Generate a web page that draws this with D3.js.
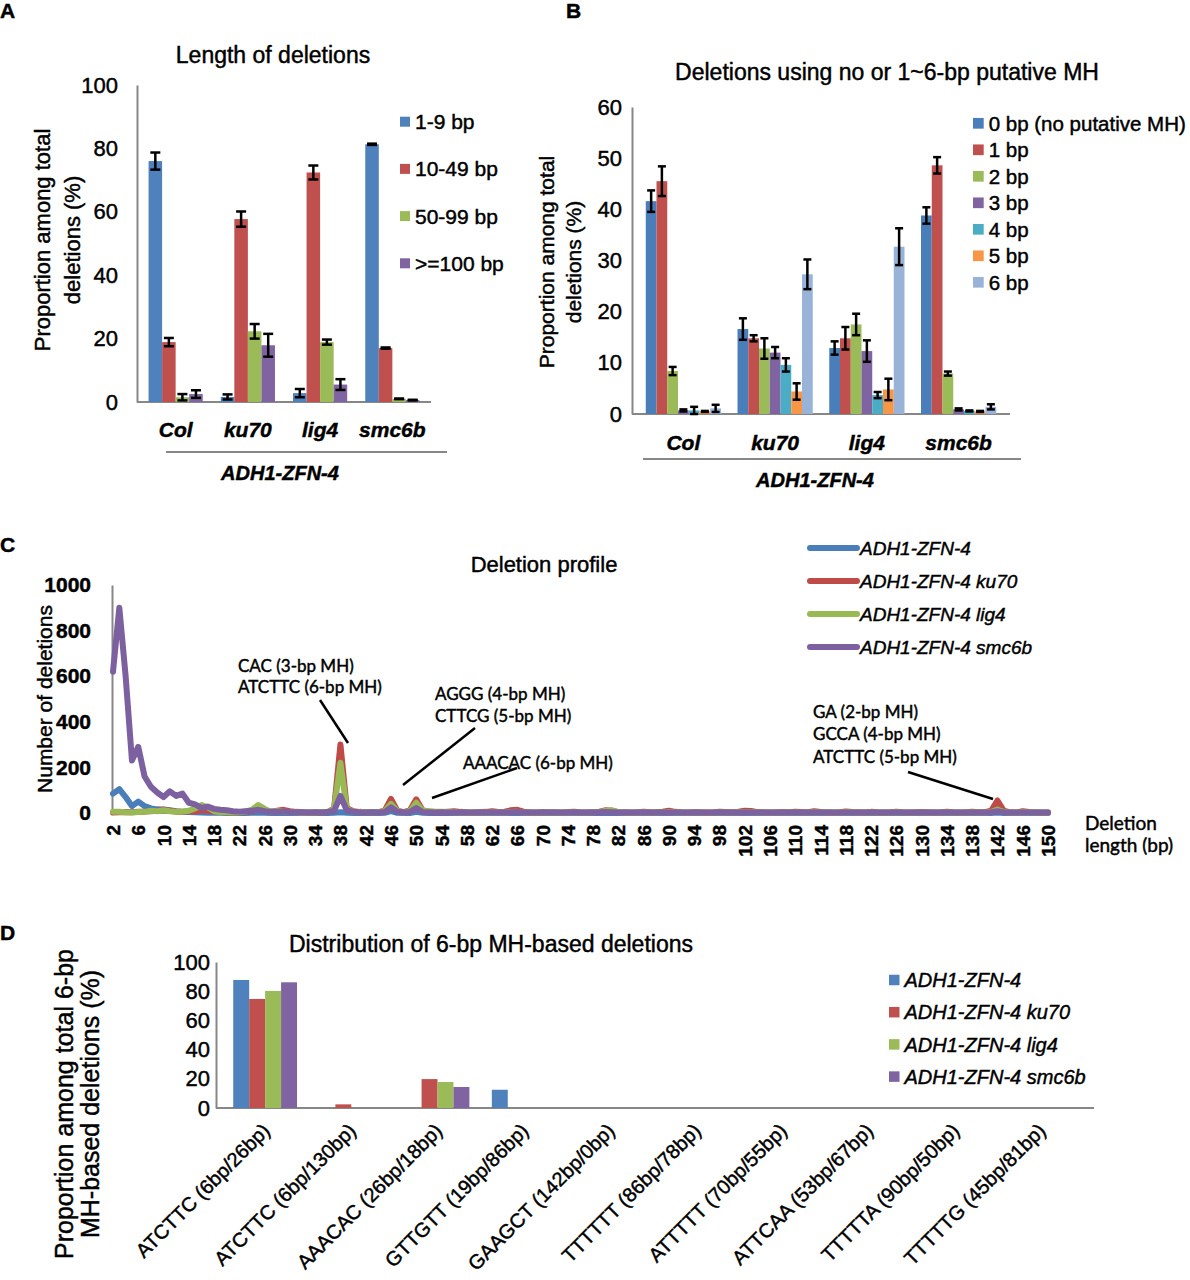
<!DOCTYPE html>
<html>
<head>
<meta charset="utf-8">
<title>Deletion analysis</title>
<script src="https://cdn.jsdelivr.net/npm/d3@7"></script>
<style>
  body { margin: 0; background: #fff; }
  svg { display: block; }
  text { font-family: "Liberation Sans", Arial, sans-serif; fill: #000; stroke: #000; stroke-width: 0.45px; }
  text.cal { font-family: Lato, "Open Sans", sans-serif; }
</style>
</head>
<body>
<svg id="fig" width="1190" height="1280"></svg>
<script>
// ---- A: length of deletions ----
const genotypes = ['Col', 'ku70', 'lig4', 'smc6b'];
const lengthClasses = ['1-9 bp', '10-49 bp', '50-99 bp', '>=100 bp'];
const lengthMean = [
    [76.0, 18.9, 1.5, 2.5],
    [1.6, 57.7, 22.3, 17.9],
    [2.8, 72.4, 18.9, 5.5],
    [81.3, 17.0, 1.0, 0.6]
];
const lengthErr = [
    [2.7, 1.3, 1.0, 1.2],
    [0.8, 2.4, 2.3, 3.6],
    [1.3, 2.2, 0.8, 1.7],
    [0.2, 0.2, 0.1, 0.1]
];

// ---- B: microhomology use ----
const mhClasses = ['0 bp (no putative MH)', '1 bp', '2 bp', '3 bp', '4 bp', '5 bp', '6 bp'];
const mhMean = [
    [41.6, 45.5, 8.4, 0.7, 0.7, 0.5, 1.1],
    [16.6, 14.8, 12.8, 12.0, 9.6, 4.4, 27.3],
    [12.9, 14.8, 17.5, 12.3, 3.7, 4.8, 32.7],
    [38.8, 48.6, 7.9, 0.9, 0.6, 0.5, 1.4]
];
const mhErr = [
    [2.1, 2.9, 0.8, 0.2, 0.7, 0.1, 0.7],
    [2.1, 0.6, 2.0, 1.1, 1.3, 1.6, 2.9],
    [1.3, 2.2, 2.1, 2.1, 0.6, 2.1, 3.6],
    [1.6, 1.6, 0.4, 0.2, 0.1, 0.1, 0.5]
];

// ---- C: deletion profile (deletion length 2..150 bp) ----
const lineNames = ['ADH1-ZFN-4', 'ADH1-ZFN-4 ku70', 'ADH1-ZFN-4 lig4', 'ADH1-ZFN-4 smc6b'];
const lengthTicks = [2, 6, 10, 14, 18, 22, 26, 30, 34, 38, 42, 46, 50, 54, 58, 62, 66, 70, 74, 78,
    82, 86, 90, 94, 98, 102, 106, 110, 114, 118, 122, 126, 130, 134, 138, 142, 146, 150];
const countWT = [
    85, 105, 70, 30, 50, 30, 20, 16, 15, 12,
    8, 5, 4, 3, 2, 1, 1, 1, 0, 0,
    0, 0, 1, 2, 1, 0, 0, 0, 0, 0,
    0, 0, 0, 0, 0, 1, 3, 1, 0, 0,
    0, 0, 0, 1, 8, 1, 0, 0, 5, 1,
    0, 0, 0, 0, 0, 0, 0, 0, 0, 0,
    0, 0, 0, 0, 0, 0, 0, 0, 0, 0,
    0, 0, 0, 0, 0, 0, 0, 0, 1, 0,
    0, 0, 0, 0, 0, 0, 0, 0, 0, 0,
    0, 0, 0, 0, 0, 0, 0, 0, 0, 0,
    1, 0, 0, 0, 0, 0, 0, 0, 0, 0,
    0, 0, 0, 0, 0, 0, 0, 0, 0, 0,
    0, 0, 0, 0, 0, 0, 0, 0, 0, 0,
    0, 0, 0, 0, 0, 0, 0, 0, 0, 0,
    2, 0, 0, 0, 0, 0, 0, 0, 0
];
const countKu70 = [
    2, 3, 4, 3, 5, 6, 8, 10, 15, 10,
    6, 5, 8, 6, 12, 10, 6, 4, 3, 2,
    3, 5, 8, 20, 12, 6, 10, 14, 8, 5,
    3, 2, 2, 3, 4, 20, 300, 22, 8, 5,
    3, 4, 4, 10, 62, 10, 4, 12, 60, 12,
    5, 4, 3, 6, 8, 5, 3, 2, 3, 5,
    8, 4, 6, 12, 14, 6, 3, 2, 3, 4,
    3, 2, 4, 5, 3, 2, 4, 6, 12, 10,
    4, 3, 2, 3, 5, 3, 4, 6, 10, 5,
    3, 2, 4, 3, 2, 3, 5, 4, 3, 6,
    10, 9, 4, 3, 2, 3, 4, 3, 5, 4,
    3, 8, 4, 3, 2, 3, 7, 4, 3, 2,
    5, 3, 2, 3, 6, 3, 2, 3, 4, 3,
    2, 3, 5, 3, 2, 3, 6, 3, 4, 10,
    55, 10, 3, 2, 8, 4, 3, 2, 2
];
const countLig4 = [
    5, 5, 3, 2, 4, 5, 10, 8, 12, 8,
    5, 6, 10, 20, 35, 25, 8, 4, 3, 2,
    3, 6, 15, 35, 18, 6, 8, 6, 4, 3,
    2, 2, 2, 3, 5, 18, 220, 18, 6, 4,
    3, 3, 3, 8, 40, 8, 3, 8, 45, 10,
    8, 6, 5, 4, 3, 2, 2, 3, 2, 2,
    3, 2, 2, 4, 5, 2, 2, 2, 2, 3,
    2, 2, 2, 3, 2, 2, 3, 4, 10, 12,
    4, 2, 2, 2, 3, 2, 2, 3, 4, 2,
    2, 2, 2, 2, 2, 2, 3, 2, 2, 3,
    4, 3, 2, 2, 2, 2, 2, 2, 2, 2,
    2, 3, 2, 2, 2, 2, 3, 2, 2, 2,
    2, 2, 2, 2, 3, 2, 2, 2, 2, 2,
    2, 2, 2, 2, 2, 2, 3, 2, 2, 4,
    15, 4, 2, 2, 3, 2, 2, 2, 2
];
const countSmc6b = [
    620, 900, 600, 230, 290, 160, 115, 90, 70, 95,
    75, 85, 45, 38, 22, 28, 18, 14, 12, 8,
    6, 8, 10, 14, 8, 5, 4, 6, 4, 3,
    3, 2, 3, 2, 4, 10, 75, 12, 5, 3,
    2, 3, 2, 4, 25, 5, 3, 4, 22, 4,
    3, 2, 3, 2, 2, 3, 2, 2, 3, 2,
    3, 2, 2, 3, 4, 2, 2, 2, 3, 2,
    2, 2, 2, 3, 2, 2, 2, 3, 4, 3,
    2, 2, 2, 2, 3, 2, 2, 3, 2, 2,
    2, 2, 2, 2, 2, 2, 3, 2, 2, 2,
    3, 2, 2, 2, 2, 2, 2, 2, 2, 2,
    2, 2, 2, 2, 2, 2, 2, 2, 2, 2,
    2, 2, 2, 2, 2, 2, 2, 2, 2, 2,
    2, 2, 2, 2, 2, 2, 2, 2, 2, 3,
    8, 3, 2, 2, 2, 2, 2, 2, 2
];

// ---- D: 6-bp MH sites ----
const mhSites = ['ATCTTC (6bp/26bp)', 'ATCTTC (6bp/130bp)', 'AAACAC (26bp/18bp)', 'GTTGTT (19bp/86bp)',
    'GAAGCT (142bp/0bp)', 'TTTTTT (86bp/78bp)', 'ATTTTT (70bp/55bp)', 'ATTCAA (53bp/67bp)',
    'TTTTTA (90bp/50bp)', 'TTTTTG (45bp/81bp)'];
const shareWT = [87.7, 0, 0, 12.5, 0, 0, 0, 0, 0, 0];
const shareKu70 = [74.7, 2.5, 19.8, 0, 0, 0, 0, 0, 0, 0];
const shareLig4 = [80.2, 0, 17.8, 0, 0, 0, 0, 0, 0, 0];
const shareSmc6b = [86.1, 0, 14.4, 0, 0, 0, 0, 0, 0, 0];

const colors4 = ['#4F81BD', '#C0504D', '#9BBB59', '#8064A2'];
const colors7 = ['#4A7EBB', '#C0504D', '#9BBB59', '#8064A2', '#4BACC6', '#F79646', '#98B2D8'];
const lineColors = ['#4A7EBB', '#BE4B48', '#98B954', '#7D60A0'];
const grey = '#878787';

const svg = d3.select('#fig');

function label(t, x, y, size, opts) {
    opts = opts || {};
    return svg.append('text')
        .attr('x', x).attr('y', y)
        .attr('font-size', size)
        .attr('font-weight', opts.bold ? 'bold' : null)
        .attr('font-style', opts.italic ? 'italic' : null)
        .attr('text-anchor', opts.anchor || 'start')
        .attr('class', opts.cls || null)
        .text(t);
}

function yTitle(lines, xs, yc, size) {
    lines.forEach((t, i) => {
        svg.append('text')
            .attr('transform', `translate(${xs[i]},${yc}) rotate(-90)`)
            .attr('text-anchor', 'middle')
            .attr('font-size', size)
            .text(t);
    });
}

function squareLegend(names, colors, x, y0, dy, sq, fs, italic) {
    names.forEach((n, i) => {
        const cy = y0 + i * dy;
        svg.append('rect').attr('x', x).attr('y', cy - sq / 2).attr('width', sq).attr('height', sq).attr('fill', colors[i]);
        label(n, x + sq + 5, cy + fs * 0.36, fs, {italic: italic});
    });
}

function groupedBars(o) {
    const g = svg.append('g');
    const x0 = d3.scaleBand().domain(o.groups).range(o.xr).paddingInner(o.pi).paddingOuter(o.po);
    const x1 = d3.scaleBand().domain(d3.range(o.colors.length)).range([0, x0.bandwidth()]);
    const y = d3.scaleLinear().domain(o.yd).range(o.yr);

    const ya = g.append('g')
        .attr('transform', `translate(${o.xr[0]},0)`)
        .call(d3.axisLeft(y).tickValues(o.yTicks).tickSize(0).tickPadding(o.pad));
    ya.attr('font-size', o.tickFont).attr('font-family', null);
    ya.select('.domain').attr('stroke', grey).attr('stroke-width', 2);

    g.append('line')
        .attr('x1', o.xr[0]).attr('x2', o.xr[1] + (o.extend || 0))
        .attr('y1', y(0)).attr('y2', y(0))
        .attr('stroke', grey).attr('stroke-width', 2);

    const grp = g.selectAll('g.grp').data(o.groups).join('g')
        .attr('class', 'grp')
        .attr('transform', d => `translate(${x0(d)},0)`);

    const cells = (d, i) => o.means[i].map((v, j) => ({v: v, j: j, e: o.errs ? o.errs[i][j] : 0}));

    grp.selectAll('rect').data(cells).join('rect')
        .attr('x', d => x1(d.j))
        .attr('width', x1.bandwidth())
        .attr('y', d => y(d.v))
        .attr('height', d => y(0) - y(d.v))
        .attr('fill', d => o.colors[d.j]);

    if (o.errs) {
        grp.selectAll('g.err').data(cells).join('g')
            .attr('class', 'err')
            .each(function (d) {
                const s = d3.select(this);
                const cx = x1(d.j) + x1.bandwidth() / 2;
                const top = y(d.v + d.e), bot = y(Math.max(0, d.v - d.e));
                s.append('line').attr('x1', cx).attr('x2', cx).attr('y1', top).attr('y2', bot);
                s.append('line').attr('x1', cx - o.cap / 2).attr('x2', cx + o.cap / 2).attr('y1', top).attr('y2', top);
                s.append('line').attr('x1', cx - o.cap / 2).attr('x2', cx + o.cap / 2).attr('y1', bot).attr('y2', bot);
                s.selectAll('line').attr('stroke', '#000').attr('stroke-width', 2.5);
            });
    }
    return {x0: x0, y: y};
}

// ================= Panel A =================
label('A', 0, 18, 21, {bold: true});
label('Length of deletions', 273, 63, 23, {anchor: 'middle'});
const pa = groupedBars({
    groups: genotypes, colors: colors4, means: lengthMean, errs: lengthErr,
    xr: [137, 431], pi: 0.25, po: 0.16, yd: [0, 100], yr: [402, 85],
    yTicks: [0, 20, 40, 60, 80, 100], pad: 19, tickFont: 22, cap: 10
});
genotypes.forEach(gn => label(gn, pa.x0(gn) + pa.x0.bandwidth() / 2, 437, 21, {italic: true, bold: true, anchor: 'middle'}));
svg.append('line').attr('x1', 166).attr('x2', 447).attr('y1', 452).attr('y2', 452).attr('stroke', grey).attr('stroke-width', 2);
label('ADH1-ZFN-4', 280, 480, 20, {italic: true, bold: true, anchor: 'middle'});
yTitle(['Proportion among total', 'deletions (%)'], [50, 80], 240, 22);
squareLegend(lengthClasses, colors4, 400, 121.7, 47.2, 10, 21, false);

// ================= Panel B =================
label('B', 566, 18, 21, {bold: true});
label('Deletions using no or 1~6-bp putative MH', 887, 80, 23, {anchor: 'middle'});
const pb = groupedBars({
    groups: genotypes, colors: colors7, means: mhMean, errs: mhErr,
    xr: [632, 1010], pi: 0.18, po: 0.15, yd: [0, 60], yr: [414, 107],
    yTicks: [0, 10, 20, 30, 40, 50, 60], pad: 10, tickFont: 22, cap: 8
});
genotypes.forEach(gn => label(gn, pb.x0(gn) + pb.x0.bandwidth() / 2, 450, 21, {italic: true, bold: true, anchor: 'middle'}));
svg.append('line').attr('x1', 643).attr('x2', 1021).attr('y1', 459).attr('y2', 459).attr('stroke', grey).attr('stroke-width', 2);
label('ADH1-ZFN-4', 815, 487, 20, {italic: true, bold: true, anchor: 'middle'});
yTitle(['Proportion among total', 'deletions (%)'], [554, 581], 262, 21);
squareLegend(mhClasses, colors7, 973, 123.3, 26.5, 10.7, 20.5, false);

// ================= Panel C =================
label('C', 0, 552, 21, {bold: true});
label('Deletion profile', 544, 572, 22, {anchor: 'middle'});
const delLengths = d3.range(2, 151);
const xC = d3.scalePoint().domain(delLengths).range([113, 1048]);
const yC = d3.scaleLinear().domain([0, 1000]).range([813, 585]);

const yaC = svg.append('g').attr('transform', 'translate(112,0)')
    .call(d3.axisLeft(yC).tickValues([0, 200, 400, 600, 800, 1000]).tickFormat(d3.format('d')).tickSize(0).tickPadding(21));
yaC.attr('font-size', 21).attr('font-family', null).attr('font-weight', 'bold');
yaC.select('.domain').attr('stroke', grey).attr('stroke-width', 2);
svg.append('line').attr('x1', 112).attr('x2', 1048).attr('y1', yC(0)).attr('y2', yC(0)).attr('stroke', grey).attr('stroke-width', 2);

lengthTicks.forEach(t => {
    svg.append('text')
        .attr('transform', `translate(${xC(t) + 7},825) rotate(-90)`)
        .attr('text-anchor', 'end')
        .attr('font-size', 19)
        .attr('font-weight', 'bold')
        .text(t);
});

const series = [countWT, countKu70, countLig4, countSmc6b];
const lineGen = d3.line().x((d, i) => xC(delLengths[i])).y(d => yC(d));
series.forEach((s, k) => {
    svg.append('path').attr('d', lineGen(s))
        .attr('fill', 'none').attr('stroke', lineColors[k])
        .attr('stroke-width', 6).attr('stroke-linejoin', 'round').attr('stroke-linecap', 'round');
});

yTitle(['Number of deletions'], [52], 699, 21);

lineNames.forEach((n, i) => {
    const cy = 548 + i * 33;
    svg.append('line').attr('x1', 810).attr('x2', 857).attr('y1', cy).attr('y2', cy)
        .attr('stroke', lineColors[i]).attr('stroke-width', 6).attr('stroke-linecap', 'round');
    label(n, 860, cy + 7, 19, {italic: true});
});

// annotations
const notes = [
    {x: 238, ys: [672, 693], t: ['CAC (3-bp MH)', 'ATCTTC (6-bp MH)'], l: [320, 700, 348, 743]},
    {x: 435, ys: [700, 722], t: ['AGGG (4-bp MH)', 'CTTCG (5-bp MH)'], l: [475, 728, 403, 785]},
    {x: 463, ys: [769], t: ['AAACAC (6-bp MH)'], l: [517, 768, 432, 798]},
    {x: 813, ys: [718, 740, 763], t: ['GA (2-bp MH)', 'GCCA (4-bp MH)', 'ATCTTC (5-bp MH)'], l: [908, 772, 993, 799]}
];
notes.forEach(n => {
    n.t.forEach((t, i) => label(t, n.x, n.ys[i], 17, {cls: 'cal'}));
    svg.append('line').attr('x1', n.l[0]).attr('y1', n.l[1]).attr('x2', n.l[2]).attr('y2', n.l[3])
        .attr('stroke', '#000').attr('stroke-width', 2.5);
});
label('Deletion', 1085, 830, 19, {cls: 'cal'});
label('length (bp)', 1085, 852, 19, {cls: 'cal'});

// ================= Panel D =================
label('D', 0, 940, 21, {bold: true});
label('Distribution of 6-bp MH-based deletions', 491, 952, 23, {anchor: 'middle'});
const shareTable = mhSites.map((s, i) => [shareWT[i], shareKu70[i], shareLig4[i], shareSmc6b[i]]);
const pd = groupedBars({
    groups: mhSites, colors: colors4, means: shareTable, errs: null,
    xr: [216, 1090], pi: 0.26, po: 0.2, yd: [0, 100], yr: [1108, 962],
    yTicks: [0, 20, 40, 60, 80, 100], pad: 6, tickFont: 22, extend: 4
});
mhSites.forEach(s => {
    svg.append('text')
        .attr('transform', `translate(${pd.x0(s) + pd.x0.bandwidth() / 2 + 6},1132) rotate(-45)`)
        .attr('text-anchor', 'end')
        .attr('font-size', 20)
        .text(s);
});
yTitle(['Proportion among total 6-bp', 'MH-based deletions (%)'], [73, 99], 1104, 25);
squareLegend(lineNames, colors4, 889, 980, 32.2, 10.5, 20, true);
</script>
</body>
</html>
